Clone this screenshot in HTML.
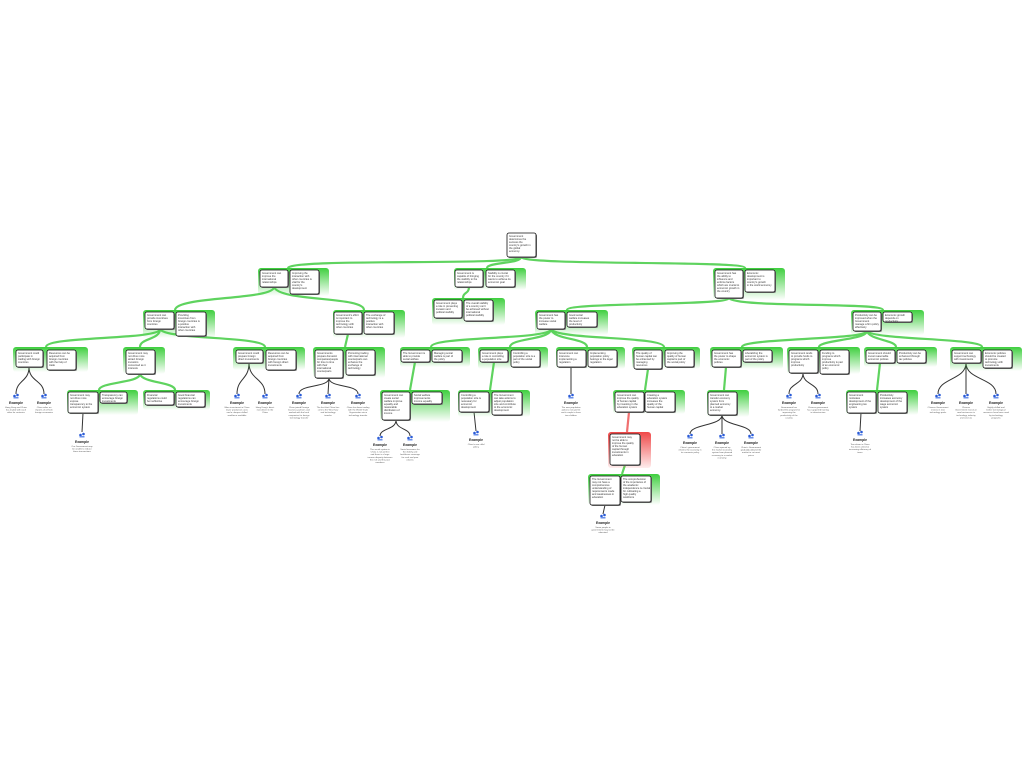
<!DOCTYPE html>
<html><head><meta charset="utf-8"><style>
html,body{margin:0;padding:0;background:#fff;width:1024px;height:768px;overflow:hidden}
svg{display:block}
.c{fill:url(#gg)}
.r{fill:url(#gr)}
.s{fill:#777}
.b{fill:#fff;stroke:#111;stroke-width:.8}
.g{fill:none;stroke:#5fd35f;stroke-width:2.2}
.rd{fill:none;stroke:#f07070;stroke-width:2.2}
.d{fill:none;stroke:#333;stroke-width:1}
text{font-family:"Liberation Sans",sans-serif;font-size:2.6px;fill:#333}
.ex{font-size:3.4px;font-weight:bold;fill:#222;text-anchor:middle}
.et{font-size:2.2px;fill:#555;text-anchor:middle}
</style></head><body>
<svg width="1024" height="768" viewBox="0 0 1024 768" xmlns="http://www.w3.org/2000/svg">
<defs>
<linearGradient id="gg" x1="0" y1="0" x2="0" y2="1"><stop offset="0" stop-color="#3fcf3f"/><stop offset="1" stop-color="#3fcf3f" stop-opacity="0"/></linearGradient>
<linearGradient id="gr" x1="0" y1="0" x2="0" y2="1"><stop offset="0" stop-color="#f04848"/><stop offset="1" stop-color="#f04848" stop-opacity="0.1"/></linearGradient>
<g id="ic"><circle cx="-1.5" cy="0" r="1.3" fill="#2a5bd7"/><circle cx="1.5" cy="-1" r="1.3" fill="#2a5bd7"/><rect x="-2.5" y="1" width="5" height="1.5" fill="#6a8fe8"/></g>
</defs>

<!-- green connectors -->
<g class="g">
<path d="M521 257 C521 266 290 258 288 268"/>
<path d="M521 257 C521 264 487 262 487 268"/>
<path d="M521 257 C525 266 745 260 745 268"/>
<path d="M274 287 C274 300 176 296 175 310"/>
<path d="M274 287 C280 302 364 296 364 310"/>
<path d="M469 287 C469 294 463 292 463 298"/>
<path d="M729 298 C729 306 567 302 567 310"/>
<path d="M729 298 C735 308 883 302 883 310"/>
<path d="M160 329 C160 340 46 336 46 347"/>
<path d="M160 329 C160 340 140 338 140 347"/>
<path d="M160 329 C165 340 265 336 265 347"/>
<path d="M348 334 L345 347"/>
<path d="M551 329 C551 340 431 336 431 347"/>
<path d="M551 329 C551 340 510 338 510 347"/>
<path d="M551 329 C553 340 587 338 587 347"/>
<path d="M551 329 C556 340 664 336 664 347"/>
<path d="M867 331 C867 340 742 338 742 347"/>
<path d="M867 331 C867 340 819 340 819 347"/>
<path d="M867 331 C869 340 896 340 896 347"/>
<path d="M867 331 C872 340 982 338 982 347"/>
<path d="M140 374 C140 383 99 382 99 390"/>
<path d="M140 374 C142 383 175 382 175 390"/>
<path d="M415 362 L410 390"/>
<path d="M494 362 L490 390"/>
<path d="M648 369 L645 390"/>
<path d="M726 367 L724 390"/>
<path d="M880 363 L877 390"/>
<path d="M625 465 L622 474"/>
</g>
<path class="rd" d="M629 412 L627 432"/>

<!-- dark connectors -->
<g class="d">
<path d="M29 367 C29 382 16 380 16 394"/><path d="M29 367 C29 382 44 380 44 394"/>
<path d="M83 413 L82 432"/>
<path d="M249 363 C249 380 237 378 237 394"/><path d="M249 363 C249 380 265 378 265 394"/>
<path d="M329 378 C329 388 299 384 299 394"/><path d="M329 378 L328 394"/><path d="M329 378 C329 388 358 384 358 394"/>
<path d="M396 420 C396 430 380 428 380 436"/><path d="M396 420 C396 430 410 428 410 436"/>
<path d="M474 412 L476 431"/>
<path d="M571 367 L571 394"/>
<path d="M605 505 L603 514"/>
<path d="M722 415 C722 426 690 424 690 434"/><path d="M722 415 L722 434"/><path d="M722 415 C722 426 751 424 751 434"/>
<path d="M803 373 C803 385 789 383 789 394"/><path d="M803 373 C803 385 818 383 818 394"/>
<path d="M861 413 L860 431"/>
<path d="M966 363 C966 380 938 378 938 394"/><path d="M966 363 L966 394"/><path d="M966 363 C966 380 996 378 996 394"/>
</g>

<!-- containers -->
<g>
<rect class="c" x="258" y="268" width="71" height="28" rx="3"/>
<rect class="c" x="454" y="268" width="72" height="22" rx="3"/>
<rect class="c" x="713" y="268" width="72" height="32" rx="3"/>
<rect class="c" x="143" y="310" width="72" height="28" rx="3"/>
<rect class="c" x="333" y="310" width="72" height="28" rx="3"/>
<rect class="c" x="432" y="298" width="73" height="27" rx="3"/>
<rect class="c" x="535" y="310" width="73" height="25" rx="3"/>
<rect class="c" x="851" y="310" width="73" height="25" rx="3"/>
<rect class="c" x="13" y="347" width="75" height="25" rx="3"/>
<rect class="c" x="123" y="347" width="42" height="27" rx="3"/>
<rect class="c" x="233" y="347" width="72" height="23" rx="3"/>
<rect class="c" x="313" y="347" width="72" height="31" rx="3"/>
<rect class="c" x="400" y="347" width="70" height="20" rx="3"/>
<rect class="c" x="478" y="347" width="70" height="22" rx="3"/>
<rect class="c" x="556" y="347" width="69" height="22" rx="3"/>
<rect class="c" x="632" y="347" width="68" height="22" rx="3"/>
<rect class="c" x="710" y="347" width="73" height="22" rx="3"/>
<rect class="c" x="787" y="347" width="73" height="27" rx="3"/>
<rect class="c" x="864" y="347" width="73" height="20" rx="3"/>
<rect class="c" x="950" y="347" width="72" height="24" rx="3"/>
<rect class="c" x="67" y="390" width="71" height="25" rx="3"/>
<rect class="c" x="143" y="390" width="67" height="20" rx="3"/>
<rect class="c" x="380" y="390" width="70" height="32" rx="3"/>
<rect class="c" x="458" y="390" width="72" height="27" rx="3"/>
<rect class="c" x="613" y="390" width="72" height="24" rx="3"/>
<rect class="c" x="707" y="390" width="42" height="27" rx="3"/>
<rect class="c" x="846" y="390" width="72" height="25" rx="3"/>
<rect class="r" x="608" y="432" width="43" height="36" rx="3"/>
<rect class="c" x="588" y="474" width="72" height="31" rx="3"/>
</g>

<!-- boxes: shadow + box + text -->
<g>
<rect class="s" x="508" y="234" width="29" height="24" rx="2"/><rect class="b" x="507" y="233" width="29" height="24" rx="2"/>
<text x="509" y="237">Government<tspan x="509" dy="3">determines the</tspan><tspan x="509" dy="3">success the</tspan><tspan x="509" dy="3">country's growth in</tspan><tspan x="509" dy="3">the global</tspan><tspan x="509" dy="3">economy</tspan></text>

<rect class="s" x="261" y="271" width="28" height="17" rx="2"/><rect class="b" x="260" y="270" width="28" height="17" rx="2"/>
<text x="262" y="274">Government can<tspan x="262" dy="3">improve the</tspan><tspan x="262" dy="3">international</tspan><tspan x="262" dy="3">relationships</tspan></text>
<rect class="s" x="291" y="271" width="29" height="24" rx="2"/><rect class="b" x="290" y="270" width="29" height="24" rx="2"/>
<text x="292" y="274">Improving the<tspan x="292" dy="3">interaction with</tspan><tspan x="292" dy="3">other countries is</tspan><tspan x="292" dy="3">vital for the</tspan><tspan x="292" dy="3">country's</tspan><tspan x="292" dy="3">development</tspan></text>

<rect class="s" x="456" y="271" width="28" height="17" rx="2"/><rect class="b" x="455" y="270" width="28" height="17" rx="2"/>
<text x="457" y="274">Government is<tspan x="457" dy="3">capable of bringing</tspan><tspan x="457" dy="3">the stability to the</tspan><tspan x="457" dy="3">relationships</tspan></text>
<rect class="s" x="487" y="271" width="29" height="17" rx="2"/><rect class="b" x="486" y="270" width="29" height="17" rx="2"/>
<text x="488" y="274">Stability is crucial<tspan x="488" dy="3">for the country if it</tspan><tspan x="488" dy="3">wants to achieve its</tspan><tspan x="488" dy="3">economic goal</tspan></text>

<rect class="s" x="716" y="271" width="28" height="28" rx="2"/><rect class="b" x="715" y="270" width="28" height="28" rx="2"/>
<text x="717" y="274">Government has<tspan x="717" dy="3">the ability to</tspan><tspan x="717" dy="3">influence and</tspan><tspan x="717" dy="3">enforce factors</tspan><tspan x="717" dy="3">which are crucial to</tspan><tspan x="717" dy="3">economic growth in</tspan><tspan x="717" dy="3">the country</tspan></text>
<rect class="s" x="746" y="271" width="30" height="22" rx="2"/><rect class="b" x="745" y="270" width="30" height="22" rx="2"/>
<text x="747" y="274">Economic<tspan x="747" dy="3">development is</tspan><tspan x="747" dy="3">important to</tspan><tspan x="747" dy="3">country's growth</tspan><tspan x="747" dy="3">in the world economy</tspan></text>

<rect class="s" x="146" y="313" width="29" height="17" rx="2"/><rect class="b" x="145" y="312" width="29" height="17" rx="2"/>
<text x="147" y="316">Government can<tspan x="147" dy="3">provide incentives</tspan><tspan x="147" dy="3">from foreign</tspan><tspan x="147" dy="3">countries</tspan></text>
<rect class="s" x="177" y="313" width="30" height="24" rx="2"/><rect class="b" x="176" y="312" width="30" height="24" rx="2"/>
<text x="178" y="316">Providing<tspan x="178" dy="3">incentives from</tspan><tspan x="178" dy="3">foreign countries is</tspan><tspan x="178" dy="3">a positive</tspan><tspan x="178" dy="3">interaction with</tspan><tspan x="178" dy="3">other countries</tspan></text>

<rect class="s" x="335" y="313" width="28" height="22" rx="2"/><rect class="b" x="334" y="312" width="28" height="22" rx="2"/>
<text x="336" y="316">Government's effort<tspan x="336" dy="3">is important to</tspan><tspan x="336" dy="3">improve the</tspan><tspan x="336" dy="3">technology with</tspan><tspan x="336" dy="3">other countries</tspan></text>
<rect class="s" x="365" y="313" width="30" height="22" rx="2"/><rect class="b" x="364" y="312" width="30" height="22" rx="2"/>
<text x="366" y="316">The exchange of<tspan x="366" dy="3">technology is a</tspan><tspan x="366" dy="3">positive</tspan><tspan x="366" dy="3">interaction with</tspan><tspan x="366" dy="3">other countries</tspan></text>

<rect class="s" x="435" y="301" width="28" height="18" rx="2"/><rect class="b" x="434" y="300" width="28" height="18" rx="2"/>
<text x="436" y="304">Government plays<tspan x="436" dy="3">a role in preventing</tspan><tspan x="436" dy="3">invasion and</tspan><tspan x="436" dy="3">political stability</tspan></text>
<rect class="s" x="465" y="301" width="29" height="21" rx="2"/><rect class="b" x="464" y="300" width="29" height="21" rx="2"/>
<text x="466" y="304">The overall stability<tspan x="466" dy="3">of a country can't</tspan><tspan x="466" dy="3">be achieved without</tspan><tspan x="466" dy="3">international</tspan><tspan x="466" dy="3">political stability</tspan></text>

<rect class="s" x="538" y="313" width="28" height="17" rx="2"/><rect class="b" x="537" y="312" width="28" height="17" rx="2"/>
<text x="539" y="316">Government has<tspan x="539" dy="3">the power to</tspan><tspan x="539" dy="3">increase social</tspan><tspan x="539" dy="3">welfare</tspan></text>
<rect class="s" x="568" y="313" width="30" height="15" rx="2"/><rect class="b" x="567" y="312" width="30" height="15" rx="2"/>
<text x="569" y="316">Good social<tspan x="569" dy="3">welfare increases</tspan><tspan x="569" dy="3">the level of</tspan><tspan x="569" dy="3">productivity</tspan></text>

<rect class="s" x="854" y="313" width="28" height="19" rx="2"/><rect class="b" x="853" y="312" width="28" height="19" rx="2"/>
<text x="855" y="316">Productivity can be<tspan x="855" dy="3">improved when the</tspan><tspan x="855" dy="3">Government</tspan><tspan x="855" dy="3">manage a firm policy</tspan><tspan x="855" dy="3">effectively</tspan></text>
<rect class="s" x="884" y="313" width="29" height="10" rx="2"/><rect class="b" x="883" y="312" width="29" height="10" rx="2"/>
<text x="885" y="316">Economic growth<tspan x="885" dy="3">depends on</tspan><tspan x="885" dy="3">productivity</tspan></text>

<rect class="s" x="17" y="351" width="27" height="17" rx="2"/><rect class="b" x="16" y="350" width="27" height="17" rx="2"/>
<text x="18" y="354">Government could<tspan x="18" dy="3">participate in</tspan><tspan x="18" dy="3">trading with foreign</tspan><tspan x="18" dy="3">countries</tspan></text>
<rect class="s" x="48" y="351" width="29" height="20" rx="2"/><rect class="b" x="47" y="350" width="29" height="20" rx="2"/>
<text x="49" y="354">Resources can be<tspan x="49" dy="3">acquired from</tspan><tspan x="49" dy="3">foreign countries</tspan><tspan x="49" dy="3">with the help of</tspan><tspan x="49" dy="3">trade</tspan></text>

<rect class="s" x="127" y="351" width="29" height="24" rx="2"/><rect class="b" x="126" y="350" width="29" height="24" rx="2"/>
<text x="128" y="354">Government may<tspan x="128" dy="3">not drive more</tspan><tspan x="128" dy="3">attract foreign</tspan><tspan x="128" dy="3">investors</tspan><tspan x="128" dy="3">concerned as it</tspan><tspan x="128" dy="3">interests</tspan></text>

<rect class="s" x="237" y="351" width="27" height="13" rx="2"/><rect class="b" x="236" y="350" width="27" height="13" rx="2"/>
<text x="238" y="354">Government could<tspan x="238" dy="3">prepare foreign</tspan><tspan x="238" dy="3">direct investments</tspan></text>
<rect class="s" x="267" y="351" width="30" height="20" rx="2"/><rect class="b" x="266" y="350" width="30" height="20" rx="2"/>
<text x="268" y="354">Resources can be<tspan x="268" dy="3">acquired from</tspan><tspan x="268" dy="3">foreign countries</tspan><tspan x="268" dy="3">with foreign direct</tspan><tspan x="268" dy="3">investments</tspan></text>

<rect class="s" x="316" y="351" width="28" height="28" rx="2"/><rect class="b" x="315" y="350" width="28" height="28" rx="2"/>
<text x="317" y="354">Governments<tspan x="317" dy="3">prepare domestic</tspan><tspan x="317" dy="3">companies/people</tspan><tspan x="317" dy="3">for time to time</tspan><tspan x="317" dy="3">with their</tspan><tspan x="317" dy="3">international</tspan><tspan x="317" dy="3">counterparts</tspan></text>
<rect class="s" x="347" y="351" width="29" height="25" rx="2"/><rect class="b" x="346" y="350" width="29" height="25" rx="2"/>
<text x="348" y="354">Promoting trading<tspan x="348" dy="3">with international</tspan><tspan x="348" dy="3">counterparts can</tspan><tspan x="348" dy="3">enhance the</tspan><tspan x="348" dy="3">exchange of</tspan><tspan x="348" dy="3">technology</tspan></text>

<rect class="s" x="402" y="351" width="29" height="12" rx="2"/><rect class="b" x="401" y="350" width="29" height="12" rx="2"/>
<text x="403" y="354">The Government is<tspan x="403" dy="3">able to provide</tspan><tspan x="403" dy="3">social welfare</tspan></text>
<rect class="s" x="433" y="351" width="30" height="12" rx="2"/><rect class="b" x="432" y="350" width="30" height="12" rx="2"/>
<text x="434" y="354">Managing social<tspan x="434" dy="3">welfare is part of</tspan><tspan x="434" dy="3">the policy</tspan></text>

<rect class="s" x="481" y="351" width="28" height="12" rx="2"/><rect class="b" x="480" y="350" width="28" height="12" rx="2"/>
<text x="482" y="354">Government plays<tspan x="482" dy="3">a role in controlling</tspan><tspan x="482" dy="3">a population size</tspan></text>
<rect class="s" x="512" y="351" width="29" height="17" rx="2"/><rect class="b" x="511" y="350" width="29" height="17" rx="2"/>
<text x="513" y="354">Controlling a<tspan x="513" dy="3">population size is a</tspan><tspan x="513" dy="3">part of the social</tspan><tspan x="513" dy="3">policy</tspan></text>

<rect class="s" x="558" y="351" width="29" height="17" rx="2"/><rect class="b" x="557" y="350" width="29" height="17" rx="2"/>
<text x="559" y="354">Government can<tspan x="559" dy="3">intervene</tspan><tspan x="559" dy="3">implementing a</tspan><tspan x="559" dy="3">regulation</tspan></text>
<rect class="s" x="589" y="351" width="29" height="17" rx="2"/><rect class="b" x="588" y="350" width="29" height="17" rx="2"/>
<text x="590" y="354">Implementing<tspan x="590" dy="3">population policy</tspan><tspan x="590" dy="3">belongs to the legal</tspan><tspan x="590" dy="3">regulation</tspan></text>

<rect class="s" x="635" y="351" width="28" height="19" rx="2"/><rect class="b" x="634" y="350" width="28" height="19" rx="2"/>
<text x="636" y="354">The quality of<tspan x="636" dy="3">human capital can</tspan><tspan x="636" dy="3">be enhanced by</tspan><tspan x="636" dy="3">managing</tspan><tspan x="636" dy="3">resources</tspan></text>
<rect class="s" x="666" y="351" width="29" height="17" rx="2"/><rect class="b" x="665" y="350" width="29" height="17" rx="2"/>
<text x="667" y="354">Improving the<tspan x="667" dy="3">quality of human</tspan><tspan x="667" dy="3">capital is part of</tspan><tspan x="667" dy="3">the social policy</tspan></text>

<rect class="s" x="713" y="351" width="29" height="17" rx="2"/><rect class="b" x="712" y="350" width="29" height="17" rx="2"/>
<text x="714" y="354">Government has<tspan x="714" dy="3">the power to shape</tspan><tspan x="714" dy="3">the economic</tspan><tspan x="714" dy="3">policies</tspan></text>
<rect class="s" x="744" y="351" width="29" height="12" rx="2"/><rect class="b" x="743" y="350" width="29" height="12" rx="2"/>
<text x="745" y="354">Liberalizing the<tspan x="745" dy="3">economic system is</tspan><tspan x="745" dy="3">part of the policy</tspan></text>

<rect class="s" x="790" y="351" width="29" height="23" rx="2"/><rect class="b" x="789" y="350" width="29" height="23" rx="2"/>
<text x="791" y="354">Government tends<tspan x="791" dy="3">to provide funds to</tspan><tspan x="791" dy="3">programs which</tspan><tspan x="791" dy="3">improve</tspan><tspan x="791" dy="3">productivity</tspan></text>
<rect class="s" x="821" y="351" width="29" height="24" rx="2"/><rect class="b" x="820" y="350" width="29" height="24" rx="2"/>
<text x="822" y="354">Funding to<tspan x="822" dy="3">programs which</tspan><tspan x="822" dy="3">improve</tspan><tspan x="822" dy="3">productivity is part</tspan><tspan x="822" dy="3">of an economic</tspan><tspan x="822" dy="3">policy</tspan></text>

<rect class="s" x="867" y="351" width="29" height="13" rx="2"/><rect class="b" x="866" y="350" width="29" height="13" rx="2"/>
<text x="868" y="354">Government should<tspan x="868" dy="3">invest reasonable</tspan><tspan x="868" dy="3">economic policies</tspan></text>
<rect class="s" x="898" y="351" width="29" height="13" rx="2"/><rect class="b" x="897" y="350" width="29" height="13" rx="2"/>
<text x="899" y="354">Productivity can be<tspan x="899" dy="3">enhanced through</tspan><tspan x="899" dy="3">tax policies</tspan></text>

<rect class="s" x="953" y="351" width="29" height="13" rx="2"/><rect class="b" x="952" y="350" width="29" height="13" rx="2"/>
<text x="954" y="354">Government can<tspan x="954" dy="3">support technology</tspan><tspan x="954" dy="3">with investments</tspan></text>
<rect class="s" x="984" y="351" width="29" height="18" rx="2"/><rect class="b" x="983" y="350" width="29" height="18" rx="2"/>
<text x="985" y="354">Economic policies<tspan x="985" dy="3">should be created</tspan><tspan x="985" dy="3">to promote</tspan><tspan x="985" dy="3">technology with</tspan><tspan x="985" dy="3">investments</tspan></text>

<rect class="s" x="69" y="393" width="30" height="21" rx="2"/><rect class="b" x="68" y="392" width="30" height="21" rx="2"/>
<text x="70" y="396">Government may<tspan x="70" dy="3">not drive more</tspan><tspan x="70" dy="3">expose</tspan><tspan x="70" dy="3">transparency to the</tspan><tspan x="70" dy="3">economic system</tspan></text>
<rect class="s" x="101" y="393" width="27" height="11" rx="2"/><rect class="b" x="100" y="392" width="27" height="11" rx="2"/>
<text x="102" y="396">Transparency can<tspan x="102" dy="3">encourage foreign</tspan><tspan x="102" dy="3">investments</tspan></text>
<rect class="s" x="146" y="393" width="29" height="13" rx="2"/><rect class="b" x="145" y="392" width="29" height="13" rx="2"/>
<text x="147" y="396">Financial<tspan x="147" dy="3">regulations could</tspan><tspan x="147" dy="3">be ineffective</tspan></text>
<rect class="s" x="177" y="393" width="29" height="15" rx="2"/><rect class="b" x="176" y="392" width="29" height="15" rx="2"/>
<text x="178" y="396">Good financial<tspan x="178" dy="3">regulations can</tspan><tspan x="178" dy="3">encourage foreign</tspan><tspan x="178" dy="3">investments</tspan></text>

<rect class="s" x="383" y="393" width="28" height="28" rx="2"/><rect class="b" x="382" y="392" width="28" height="28" rx="2"/>
<text x="384" y="396">Government can<tspan x="384" dy="3">create social</tspan><tspan x="384" dy="3">welfare improve</tspan><tspan x="384" dy="3">equality and</tspan><tspan x="384" dy="3">reasonable</tspan><tspan x="384" dy="3">distribution of</tspan><tspan x="384" dy="3">income</tspan></text>
<rect class="s" x="413" y="393" width="30" height="12" rx="2"/><rect class="b" x="412" y="392" width="30" height="12" rx="2"/>
<text x="414" y="396">Social welfare<tspan x="414" dy="3">improvements</tspan><tspan x="414" dy="3">income equality</tspan></text>

<rect class="s" x="460" y="393" width="30" height="20" rx="2"/><rect class="b" x="459" y="392" width="30" height="20" rx="2"/>
<text x="461" y="396">Controlling a<tspan x="461" dy="3">population size is</tspan><tspan x="461" dy="3">necessary for</tspan><tspan x="461" dy="3">economic</tspan><tspan x="461" dy="3">development</tspan></text>
<rect class="s" x="493" y="393" width="30" height="23" rx="2"/><rect class="b" x="492" y="392" width="30" height="23" rx="2"/>
<text x="494" y="396">The Government<tspan x="494" dy="3">can take actions to</tspan><tspan x="494" dy="3">adjust population</tspan><tspan x="494" dy="3">size and contribute</tspan><tspan x="494" dy="3">to the economic</tspan><tspan x="494" dy="3">development</tspan></text>

<rect class="s" x="616" y="393" width="29" height="20" rx="2"/><rect class="b" x="615" y="392" width="29" height="20" rx="2"/>
<text x="617" y="396">Government can<tspan x="617" dy="3">improve the quality</tspan><tspan x="617" dy="3">of human capital</tspan><tspan x="617" dy="3">by investing in the</tspan><tspan x="617" dy="3">education system</tspan></text>
<rect class="s" x="646" y="393" width="30" height="20" rx="2"/><rect class="b" x="645" y="392" width="30" height="20" rx="2"/>
<text x="647" y="396">Creating a<tspan x="647" dy="3">education system</tspan><tspan x="647" dy="3">increases the</tspan><tspan x="647" dy="3">quality of the</tspan><tspan x="647" dy="3">human capital</tspan></text>

<rect class="s" x="709" y="393" width="29" height="23" rx="2"/><rect class="b" x="708" y="392" width="29" height="23" rx="2"/>
<text x="710" y="396">Government can<tspan x="710" dy="3">transfer economy</tspan><tspan x="710" dy="3">system from</tspan><tspan x="710" dy="3">planned economy</tspan><tspan x="710" dy="3">to a market</tspan><tspan x="710" dy="3">economy</tspan></text>

<rect class="s" x="848" y="393" width="29" height="21" rx="2"/><rect class="b" x="847" y="392" width="29" height="21" rx="2"/>
<text x="849" y="396">Government<tspan x="849" dy="3">motivates</tspan><tspan x="849" dy="3">development of the</tspan><tspan x="849" dy="3">engineering tax</tspan><tspan x="849" dy="3">system</tspan></text>
<rect class="s" x="879" y="393" width="29" height="21" rx="2"/><rect class="b" x="878" y="392" width="29" height="21" rx="2"/>
<text x="880" y="396">Productivity<tspan x="880" dy="3">increases economy</tspan><tspan x="880" dy="3">development of the</tspan><tspan x="880" dy="3">wage economic</tspan><tspan x="880" dy="3">system</tspan></text>

<rect class="s" x="611" y="435" width="30" height="31" rx="2"/><rect class="b" x="610" y="434" width="30" height="31" rx="2"/>
<text x="612" y="438">Government may<tspan x="612" dy="3">not be able to</tspan><tspan x="612" dy="3">improve the quality</tspan><tspan x="612" dy="3">of the human</tspan><tspan x="612" dy="3">capital through</tspan><tspan x="612" dy="3">investments in</tspan><tspan x="612" dy="3">education</tspan></text>

<rect class="s" x="591" y="477" width="30" height="29" rx="2"/><rect class="b" x="590" y="476" width="30" height="29" rx="2"/>
<text x="592" y="480">The Government<tspan x="592" dy="3">may not have a</tspan><tspan x="592" dy="3">comprehensive</tspan><tspan x="592" dy="3">understanding of</tspan><tspan x="592" dy="3">requirements made</tspan><tspan x="592" dy="3">and weaknesses in</tspan><tspan x="592" dy="3">education</tspan></text>
<rect class="s" x="622" y="477" width="30" height="26" rx="2"/><rect class="b" x="621" y="476" width="30" height="26" rx="2"/>
<text x="623" y="480">The comprehension<tspan x="623" dy="3">of the importance of</tspan><tspan x="623" dy="3">the academic</tspan><tspan x="623" dy="3">independence is crucial</tspan><tspan x="623" dy="3">for cultivating a</tspan><tspan x="623" dy="3">high quality</tspan><tspan x="623" dy="3">workforce</tspan></text>
</g>

<!-- examples -->
<g>
<use href="#ic" x="16" y="396"/><text class="ex" x="16" y="404">Example</text><text class="et" x="16" y="408">Hong Kong and China<tspan x="16" dy="2.6">has traded with each</tspan><tspan x="16" dy="2.6">other for centuries</tspan></text>
<use href="#ic" x="44" y="396"/><text class="ex" x="44" y="404">Example</text><text class="et" x="44" y="408">China relies on<tspan x="44" dy="2.6">imports of oil from</tspan><tspan x="44" dy="2.6">foreign economies</tspan></text>
<use href="#ic" x="82" y="435"/><text class="ex" x="82" y="443">Example</text><text class="et" x="82" y="447">Our Government may<tspan x="82" dy="2.6">be unable to reduce</tspan><tspan x="82" dy="2.6">these transactions</tspan></text>
<use href="#ic" x="237" y="396"/><text class="ex" x="237" y="404">Example</text><text class="et" x="237" y="408">More investment in China<tspan x="237" dy="2.6">lower production costs</tspan><tspan x="237" dy="2.6">and a cheaper skilled</tspan><tspan x="237" dy="2.6">workforce available</tspan></text>
<use href="#ic" x="265" y="396"/><text class="ex" x="265" y="404">Example</text><text class="et" x="265" y="408">Hong Kong's direct<tspan x="265" dy="2.6">investment in the</tspan><tspan x="265" dy="2.6">China</tspan></text>
<use href="#ic" x="299" y="396"/><text class="ex" x="299" y="404">Example</text><text class="et" x="299" y="408">China joined Foreign<tspan x="299" dy="2.6">business partners and</tspan><tspan x="299" dy="2.6">worked with the local</tspan><tspan x="299" dy="2.6">companies for foreign</tspan><tspan x="299" dy="2.6">technology transfer</tspan></text>
<use href="#ic" x="328" y="396"/><text class="ex" x="328" y="404">Example</text><text class="et" x="328" y="408">The fact that China has<tspan x="328" dy="2.6">sent to the West how</tspan><tspan x="328" dy="2.6">and technology</tspan><tspan x="328" dy="2.6">transfer</tspan></text>
<use href="#ic" x="358" y="396"/><text class="ex" x="358" y="404">Example</text><text class="et" x="358" y="408">China has been trading<tspan x="358" dy="2.6">with the World Trade</tspan><tspan x="358" dy="2.6">Organization since</tspan><tspan x="358" dy="2.6">technology transfer</tspan></text>
<use href="#ic" x="380" y="438"/><text class="ex" x="380" y="446">Example</text><text class="et" x="380" y="450">The social system in<tspan x="380" dy="2.6">China is not perfect</tspan><tspan x="380" dy="2.6">and there is a large</tspan><tspan x="380" dy="2.6">income disparity between</tspan><tspan x="380" dy="2.6">the rich and the poor</tspan><tspan x="380" dy="2.6">members</tspan></text>
<use href="#ic" x="410" y="438"/><text class="ex" x="410" y="446">Example</text><text class="et" x="410" y="450">Social insurance for<tspan x="410" dy="2.6">the elderly and</tspan><tspan x="410" dy="2.6">healthcare coverage</tspan><tspan x="410" dy="2.6">for rural and poor</tspan><tspan x="410" dy="2.6">citizens</tspan></text>
<use href="#ic" x="476" y="433"/><text class="ex" x="476" y="441">Example</text><text class="et" x="476" y="445">China's one child<tspan x="476" dy="2.6">policy</tspan></text>
<use href="#ic" x="571" y="396"/><text class="ex" x="571" y="404">Example</text><text class="et" x="571" y="408">The new population<tspan x="571" dy="2.6">policies now permit</tspan><tspan x="571" dy="2.6">each couple to have</tspan><tspan x="571" dy="2.6">two children</tspan></text>
<use href="#ic" x="603" y="516"/><text class="ex" x="603" y="524">Example</text><text class="et" x="603" y="528">Some people in<tspan x="603" dy="2.6">government may not be</tspan><tspan x="603" dy="2.6">educated</tspan></text>
<use href="#ic" x="690" y="436"/><text class="ex" x="690" y="444">Example</text><text class="et" x="690" y="448">China's government<tspan x="690" dy="2.6">reforms the economy in</tspan><tspan x="690" dy="2.6">its economic policy</tspan></text>
<use href="#ic" x="722" y="436"/><text class="ex" x="722" y="444">Example</text><text class="et" x="722" y="448">China opened up<tspan x="722" dy="2.6">the market economy</tspan><tspan x="722" dy="2.6">system from planned</tspan><tspan x="722" dy="2.6">economy to a market</tspan><tspan x="722" dy="2.6">economy</tspan></text>
<use href="#ic" x="751" y="436"/><text class="ex" x="751" y="444">Example</text><text class="et" x="751" y="448">China's Government<tspan x="751" dy="2.6">gradually allowed the</tspan><tspan x="751" dy="2.6">market to set most</tspan><tspan x="751" dy="2.6">prices</tspan></text>
<use href="#ic" x="789" y="396"/><text class="ex" x="789" y="404">Example</text><text class="et" x="789" y="408">Government has<tspan x="789" dy="2.6">funded the program for</tspan><tspan x="789" dy="2.6">improving the</tspan><tspan x="789" dy="2.6">productivity of the</tspan><tspan x="789" dy="2.6">country</tspan></text>
<use href="#ic" x="818" y="396"/><text class="ex" x="818" y="404">Example</text><text class="et" x="818" y="408">Chinese government<tspan x="818" dy="2.6">has supported training</tspan><tspan x="818" dy="2.6">in infrastructure</tspan></text>
<use href="#ic" x="860" y="433"/><text class="ex" x="860" y="441">Example</text><text class="et" x="860" y="445">Tax reform in China<tspan x="860" dy="2.6">has been aimed at</tspan><tspan x="860" dy="2.6">increasing efficiency of</tspan><tspan x="860" dy="2.6">taxes</tspan></text>
<use href="#ic" x="938" y="396"/><text class="ex" x="938" y="404">Example</text><text class="et" x="938" y="408">Chinese Government<tspan x="938" dy="2.6">invests in new</tspan><tspan x="938" dy="2.6">technology parks</tspan></text>
<use href="#ic" x="966" y="396"/><text class="ex" x="966" y="404">Example</text><text class="et" x="966" y="408">Chinese<tspan x="966" dy="2.6">Government invests in</tspan><tspan x="966" dy="2.6">new businesses in</tspan><tspan x="966" dy="2.6">technology, industry</tspan><tspan x="966" dy="2.6">and services</tspan></text>
<use href="#ic" x="996" y="396"/><text class="ex" x="996" y="404">Example</text><text class="et" x="996" y="408">Highly skilled and<tspan x="996" dy="2.6">better technological</tspan><tspan x="996" dy="2.6">resources have been used</tspan><tspan x="996" dy="2.6">by technology</tspan><tspan x="996" dy="2.6">programs</tspan></text>
</g>
</svg>
</body></html>
